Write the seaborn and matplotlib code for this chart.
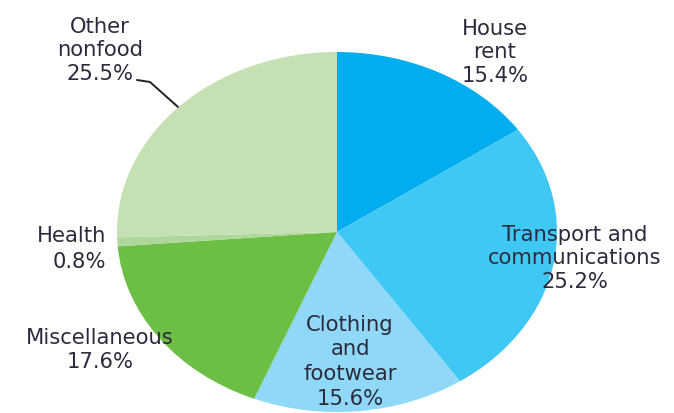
import matplotlib
matplotlib.use("Agg")
import matplotlib.pyplot as plt
import seaborn as sns

# Share of non-food consumption expenditure by category (%)
categories = ["House\nrent", "Transport and\ncommunications", "Clothing\nand\nfootwear",
              "Miscellaneous", "Health", "Other\nnonfood"]
shares = [15.4, 25.2, 15.6, 17.6, 0.8, 25.5]
slice_colors = ["#00AEEF", "#40C8F4", "#8FD8F8", "#6DBE45", "#AFD69B", "#C5E0B3"]

sns.set_theme(style="white")
plt.rcParams["font.family"] = ["DejaVu Sans"]

W, H = 674, 413
fig = plt.figure(figsize=(W / 100, H / 100), dpi=100)
ax = fig.add_axes([0, 0, 1, 1])

# Pie centre and radii in pixels (the pie is drawn as a flattened ellipse)
cx, cy, rx, ry = 337, 232, 220, 180

ax.pie(shares, colors=slice_colors, startangle=90, counterclock=False,
       wedgeprops=dict(linewidth=0))
ax.set_aspect("auto")
ax.set_xlim(-cx / rx, (W - cx) / rx)
ax.set_ylim(-(H - cy) / ry, cy / ry)
ax.axis("off")

text_color = "#2b2b3d"
fs = 15.2


def px_label(x, y, s, ha="center", ls=1.22):
    fig.text(x / W, 1 - y / H, s, ha=ha, va="baseline", fontsize=fs,
             color=text_color, linespacing=ls)


def label_text(i):
    return f"{categories[i]}\n{shares[i]:.1f}%"


# labels: x centre, baseline of the last line (pixels from top-left)
px_label(495, 82, label_text(0))
px_label(575, 288, label_text(1))
px_label(350, 405, label_text(2), ls=1.3)
px_label(100, 368, label_text(3))
px_label(106, 268, label_text(4), ha="right", ls=1.35)
px_label(100, 80, label_text(5))

# leader line for "Other nonfood"
lx = [137, 150, 178]
ly = [80, 82, 107]
fig.add_artist(plt.Line2D([v / W for v in lx], [1 - v / H for v in ly],
                          color="#222222", lw=1.4))

fig.savefig("out.png", dpi=100)
